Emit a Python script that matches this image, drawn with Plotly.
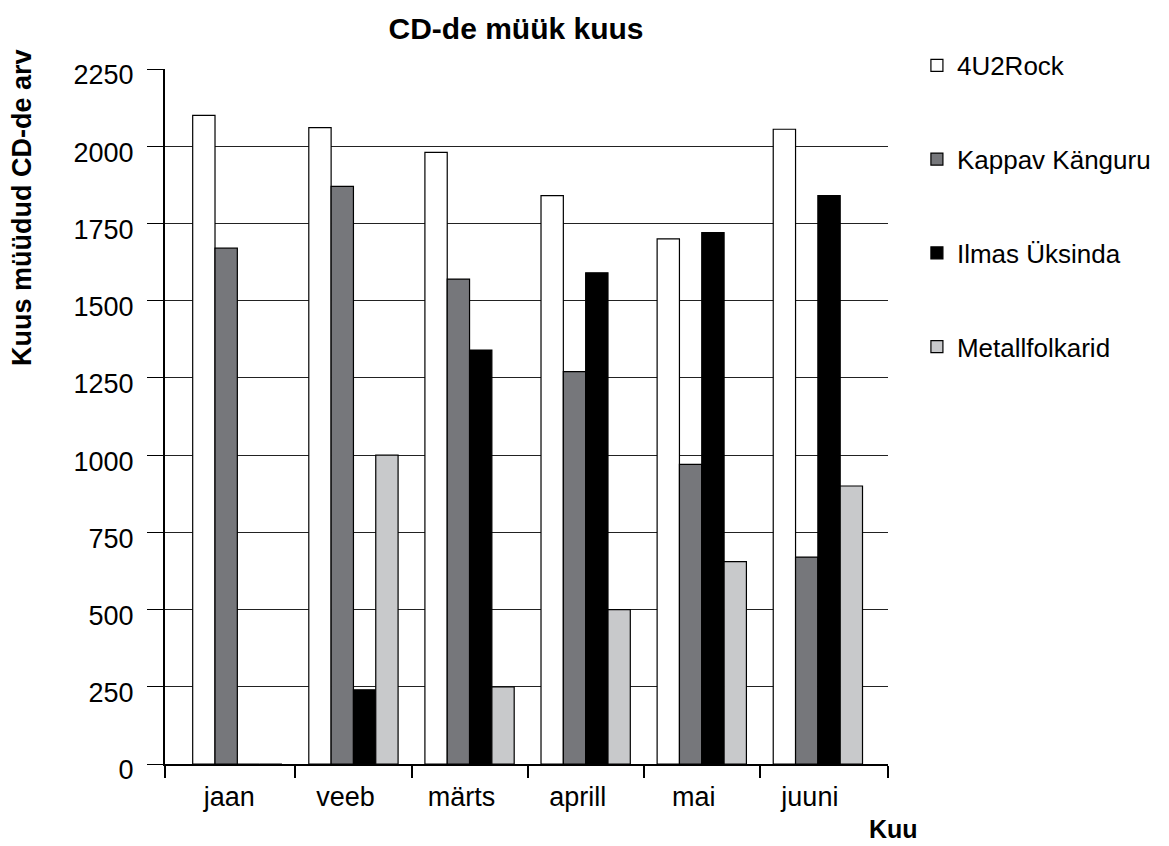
import plotly.graph_objects as go

months = ["jaan", "veeb", "märts", "aprill", "mai", "juuni"]
series_names = ["4U2Rock", "Kappav Känguru", "Ilmas Üksinda", "Metallfolkarid"]
rock = [2100, 2060, 1980, 1840, 1700, 2055]
kanguru = [1670, 1870, 1570, 1270, 970, 670]
uksinda = [0, 240, 1340, 1590, 1720, 1840]
metall = [0, 1000, 250, 500, 655, 900]
colors = ["#ffffff", "#76777b", "#000000", "#c8c9cb"]
y_ticks = [0, 250, 500, 750, 1000, 1250, 1500, 1750, 2000, 2250]

FONT = "Liberation Sans, Arial, sans-serif"
x_range = [-0.623, 5.604]
boundaries = [x_range[0], 0.5, 1.5, 2.5, 3.5, 4.5, x_range[1]]

fig = go.Figure()
for i, (name, vals) in enumerate(zip(series_names, [rock, kanguru, uksinda, metall])):
    fig.add_trace(go.Bar(
        x=months, y=vals, name=name, legendgroup=name,
        marker=dict(color=colors[i], line=dict(color="#000000", width=1.2)),
    ))

# empty helper trace so the secondary x axis (tick marks at group boundaries) is drawn
fig.add_trace(go.Scatter(x=[None], y=[None], xaxis="x2", yaxis="y",
                         showlegend=False, hoverinfo="skip"))

fig.update_layout(
    width=1169, height=846,
    paper_bgcolor="white", plot_bgcolor="white",
    margin=dict(l=165, r=281, t=69, b=82),
    barmode="group", bargap=0.231, bargroupgap=0,
    font=dict(family=FONT, size=27, color="#000"),
    title=dict(text="<b>CD-de müük kuus</b>", font=dict(size=30, family=FONT, color="#000"),
               x=516 / 1169, xanchor="center", xref="container",
               y=1 - 28 / 846, yanchor="middle", yref="container"),
    legend=dict(x=1.040, y=1.039, xanchor="left", yanchor="top",
                font=dict(size=26, family=FONT), tracegroupgap=57,
                valign="bottom", bgcolor="rgba(0,0,0,0)"),
    showlegend=True,
    xaxis=dict(type="category", range=x_range, showgrid=False, ticks="",
               showline=False, zeroline=False, tickfont=dict(size=27),
               ticklabelstandoff=14, ticklabelshift=-8),
    xaxis2=dict(overlaying="x", anchor="y", side="bottom", range=x_range,
                tickmode="array", tickvals=boundaries, showticklabels=False,
                ticks="outside", ticklen=12, tickwidth=2, tickcolor="#000",
                showline=True, linewidth=2, linecolor="#000",
                showgrid=False, zeroline=False),
)
fig.update_yaxes(
    range=[0, 2250], tickmode="array", tickvals=y_ticks,
    showgrid=True, gridcolor="#222", gridwidth=1,
    showline=True, linewidth=2, linecolor="#000", zeroline=False,
    ticks="outside", ticklen=16, tickwidth=1, tickcolor="#000",
    tickfont=dict(size=27), ticklabelstandoff=8, ticklabelshift=6,
)

fig.add_annotation(text="<b>Kuus müüdud CD-de arv</b>", textangle=-90,
                   xref="paper", yref="paper", x=(22 - 165) / 723, y=(764 - 208) / 695,
                   xanchor="center", yanchor="middle", showarrow=False,
                   font=dict(size=27, family=FONT, color="#000"))
fig.add_annotation(text="<b>Kuu</b>", xref="paper", yref="paper",
                   x=(893 - 165) / 723, y=(764 - 829) / 695,
                   xanchor="center", yanchor="middle", showarrow=False,
                   font=dict(size=25, family=FONT, color="#000"))

fig.write_html("out.html", config={"displayModeBar": False},
               post_script="document.body.style.margin='0';document.body.style.overflow='hidden';")
